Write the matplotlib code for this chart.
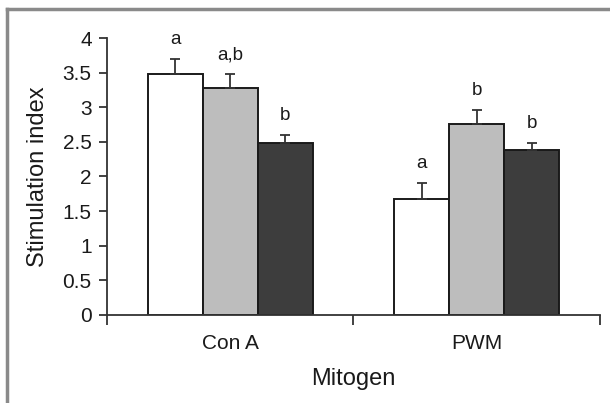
import matplotlib
matplotlib.use("Agg")
import matplotlib.pyplot as plt
import numpy as np
from matplotlib.lines import Line2D

plt.rcParams['font.family'] = ['Liberation Sans', 'DejaVu Sans']

# datos
mitogens = ["Con A", "PWM"]
white_vals = [3.48, 1.68]
white_err = [0.22, 0.22]
gray_vals = [3.28, 2.76]
gray_err = [0.20, 0.20]
dark_vals = [2.49, 2.38]
dark_err = [0.11, 0.10]
white_sig = ["a", "a"]
gray_sig = ["a,b", "b"]
dark_sig = ["b", "b"]

fig = plt.figure(figsize=(6.1, 4.03), dpi=100)
ax = fig.add_axes([0.1754, 0.2184, 0.8082, 0.6873])

x = np.arange(len(mitogens))
w = 0.2236
series = [
    (white_vals, white_err, white_sig, "white", -w),
    (gray_vals, gray_err, gray_sig, "#bdbdbd", 0),
    (dark_vals, dark_err, dark_sig, "#3d3d3d", w),
]
for vals, err, sig, col, off in series:
    ax.bar(x + off, vals, w, color=col, edgecolor="#1a1a1a", linewidth=1.4, zorder=2)
    ax.errorbar(x + off, vals, yerr=[np.zeros(len(vals)), err], fmt="none",
                ecolor="#333333", elinewidth=1.3, capsize=3.5, capthick=1.3, zorder=3)
    for xi, v, e, s in zip(x + off, vals, err, sig):
        ax.annotate(s, xy=(xi, v + e), xytext=(0, 14), textcoords="offset points",
                    ha="center", va="center", fontsize=13.5, color="#1a1a1a")

ax.set_xlim(-0.5, 1.5)
ax.set_ylim(0, 4)
ax.set_yticks(np.arange(0, 4.01, 0.5))
ax.set_yticklabels(["0", "0.5", "1", "1.5", "2", "2.5", "3", "3.5", "4"])
ax.set_xticks(x)
ax.set_xticklabels(mitogens)
ax.set_xticks([-0.5, 0.5, 1.5], minor=True)
ax.tick_params(axis="x", which="major", length=0, pad=13.5, labelsize=15, colors="#1a1a1a")
ax.tick_params(axis="x", which="minor", length=7, width=1.3, color="#333333")
ax.tick_params(axis="y", length=6, width=1.3, color="#333333", labelsize=15, pad=5, labelcolor="#1a1a1a")

for s in ["top", "right"]:
    ax.spines[s].set_visible(False)
for s in ["left", "bottom"]:
    ax.spines[s].set_linewidth(1.3)
    ax.spines[s].set_color("#333333")

ax.set_ylabel("Stimulation index", fontsize=17, color="#1a1a1a", labelpad=10)
ax.set_xlabel("Mitogen", fontsize=17, color="#1a1a1a", labelpad=11)

# marco gris exterior
fig.add_artist(Line2D([7/610, 7/610], [0, 1 - 9/403], transform=fig.transFigure,
                      color="#8a8a8a", linewidth=2.5))
fig.add_artist(Line2D([7/610, 1], [1 - 9/403, 1 - 9/403], transform=fig.transFigure,
                      color="#8a8a8a", linewidth=2.5))

fig.savefig("out.png", dpi=100)
